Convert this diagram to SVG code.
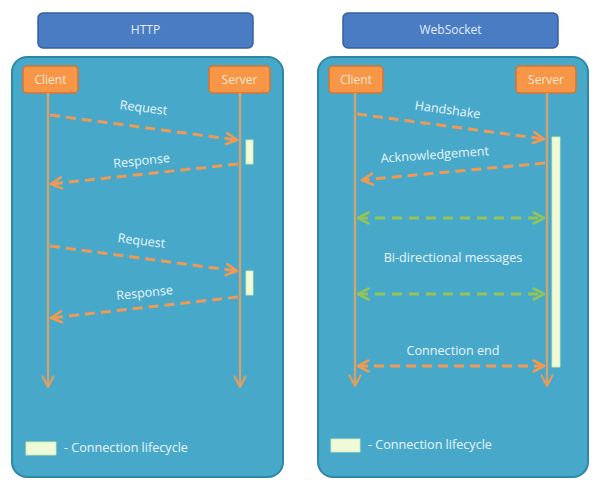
<svg xmlns="http://www.w3.org/2000/svg" width="600" height="488" viewBox="0 0 600 488">
<defs>
<marker id="ao" viewBox="0 0 14 14" refX="12" refY="7" markerWidth="14" markerHeight="14" markerUnits="userSpaceOnUse" orient="auto-start-reverse">
<path d="M1.5,1.5 L12,7 L1.5,12.5" fill="none" stroke="#ee9a55" stroke-width="2.6" stroke-linecap="round" stroke-linejoin="round"/>
</marker>
<marker id="ag" viewBox="0 0 14 14" refX="12" refY="7" markerWidth="14" markerHeight="14" markerUnits="userSpaceOnUse" orient="auto-start-reverse">
<path d="M1.5,1.5 L12,7 L1.5,12.5" fill="none" stroke="#92c45c" stroke-width="2.6" stroke-linecap="round" stroke-linejoin="round"/>
</marker>
<marker id="al" viewBox="0 0 14 14" refX="12" refY="7" markerWidth="14" markerHeight="14" markerUnits="userSpaceOnUse" orient="auto">
<path d="M1.5,1.5 L12,7 L1.5,12.5" fill="none" stroke="#e29c5e" stroke-width="2.2" stroke-linecap="round" stroke-linejoin="round"/>
</marker>
</defs>
<style>
.title{fill:#4a7cc4;stroke:#36609f;stroke-width:1.5}
.panel{fill:#47a8c9;stroke:#2d88a6;stroke-width:2}
.actor{fill:#f79646;stroke:#d27634;stroke-width:1.5}
.life{stroke:#cfa474;stroke-width:2.4;fill:none}
.msg{stroke:#ee9a55;stroke-width:3;stroke-dasharray:10 6;fill:none}
.gmsg{stroke:#92c45c;stroke-width:3;stroke-dasharray:10 7;fill:none}
.act{fill:#eefad8;stroke:#d4ecb0;stroke-width:0.8}
text{font-family:"Open Sans","Liberation Sans",sans-serif;font-size:12.6px;fill:#e8f6fb;text-anchor:middle}
.tt{fill:#e4ecfa;font-size:12px}
.at{fill:#fde8d4;font-size:12px}
.lg{text-anchor:start}
</style>

<g id="http-title"><rect class="title" x="38" y="13" width="215" height="35" rx="5"/><text class="tt" x="145.5" y="34">HTTP</text></g>
<g id="ws-title"><rect class="title" x="343" y="13" width="215" height="35" rx="5"/><text class="tt" x="450.5" y="34">WebSocket</text></g>

<g id="http-panel"><rect class="panel" x="12" y="57" width="271" height="420" rx="15"/></g>
<g id="ws-panel"><rect class="panel" x="318" y="57" width="270" height="420" rx="15"/></g>

<g id="http-client"><rect class="actor" x="23" y="66" width="55" height="27" rx="4"/><text class="at" x="50.5" y="84">Client</text></g>
<g id="http-server"><rect class="actor" x="209" y="66" width="61" height="27" rx="4"/><text class="at" x="239.5" y="84">Server</text></g>
<g id="ws-client"><rect class="actor" x="329" y="66" width="54" height="27" rx="4"/><text class="at" x="356" y="84">Client</text></g>
<g id="ws-server"><rect class="actor" x="516" y="66" width="60" height="27" rx="4"/><text class="at" x="546" y="84">Server</text></g>

<g id="activations">
<rect class="act" x="246" y="140" width="7" height="24"/>
<rect class="act" x="246" y="271" width="7" height="24"/>
<rect class="act" x="552" y="137" width="8" height="230"/>
</g>

<g id="connectors">
<line class="life" x1="48" y1="93" x2="48" y2="387" marker-end="url(#al)"/>
<line class="life" x1="240" y1="93" x2="240" y2="387" marker-end="url(#al)"/>
<line class="life" x1="355" y1="93" x2="355" y2="386" marker-end="url(#al)"/>
<line class="life" x1="547" y1="93" x2="547" y2="386" marker-end="url(#al)"/>

<line class="msg" x1="50" y1="115" x2="237" y2="140" marker-end="url(#ao)"/>
<line class="msg" x1="238" y1="164" x2="51" y2="184" marker-end="url(#ao)"/>
<line class="msg" x1="50" y1="246" x2="237" y2="271" marker-end="url(#ao)"/>
<line class="msg" x1="238" y1="297" x2="51" y2="318" marker-end="url(#ao)"/>

<line class="msg" x1="357" y1="114" x2="544" y2="139" marker-end="url(#ao)"/>
<line class="msg" x1="545" y1="163" x2="362" y2="180" marker-end="url(#ao)"/>
<line class="gmsg" x1="358" y1="218" x2="544" y2="218" marker-start="url(#ag)" marker-end="url(#ag)"/>
<line class="gmsg" x1="358" y1="294" x2="544" y2="294" marker-start="url(#ag)" marker-end="url(#ag)"/>
<line class="msg" x1="358" y1="366" x2="544" y2="366" marker-start="url(#ao)" marker-end="url(#ao)"/>
</g>

<g id="labels">
<text transform="translate(143,112) rotate(7)">Request</text>
<text transform="translate(142,165) rotate(-6)">Response</text>
<text transform="translate(141,245) rotate(7)">Request</text>
<text transform="translate(145,297) rotate(-6)">Response</text>
<text transform="translate(447,114) rotate(8)">Handshake</text>
<text transform="translate(435,159) rotate(-4)">Acknowledgement</text>
<text x="453" y="262">Bi-directional messages</text>
<text x="453" y="355">Connection end</text>
</g>

<g id="http-legend"><rect class="act" x="26" y="442" width="30" height="13"/><text class="lg" x="64" y="452">- Connection lifecycle</text></g>
<g id="ws-legend"><rect class="act" x="331" y="439" width="29" height="13"/><text class="lg" x="368" y="449">- Connection lifecycle</text></g>
</svg>
